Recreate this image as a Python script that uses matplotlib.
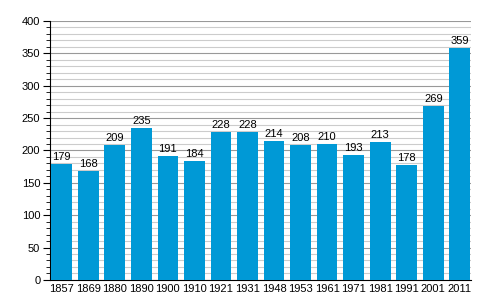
import matplotlib.pyplot as plt
import numpy as np
from matplotlib.ticker import MultipleLocator

years = ["1857", "1869", "1880", "1890", "1900", "1910", "1921", "1931",
         "1948", "1953", "1961", "1971", "1981", "1991", "2001", "2011"]
population = [179, 168, 209, 235, 191, 184, 228, 228,
              214, 208, 210, 193, 213, 178, 269, 359]

plt.rcParams['font.family'] = ['Liberation Sans', 'DejaVu Sans']

fig = plt.figure(figsize=(5, 3), dpi=100)
ax = fig.add_axes([0.1, 0.067, 0.842, 0.863])

x = np.arange(len(years))
ax.bar(x, population, width=0.78, color="#0099d6", zorder=3)
for xi, v in zip(x, population):
    ax.text(xi, v + 3, str(v), ha="center", va="bottom", fontsize=8, zorder=4)

ax.set_xlim(-0.44, 15.42)
ax.set_ylim(0, 400)
ax.set_xticks(x)
ax.set_xticklabels(years, fontsize=8)
ax.yaxis.set_major_locator(MultipleLocator(50))
ax.yaxis.set_minor_locator(MultipleLocator(10))
ax.tick_params(axis="y", which="major", length=5, labelsize=8, pad=2)
ax.tick_params(axis="y", which="minor", length=3)
ax.tick_params(axis="x", length=0, pad=3)

ax.grid(axis="y", which="major", color="#999999", linewidth=0.8, zorder=1)
ax.grid(axis="y", which="minor", color="#cccccc", linewidth=0.8, zorder=1)
ax.spines["right"].set_visible(False)
ax.spines["top"].set_visible(False)

plt.savefig("out.png")
